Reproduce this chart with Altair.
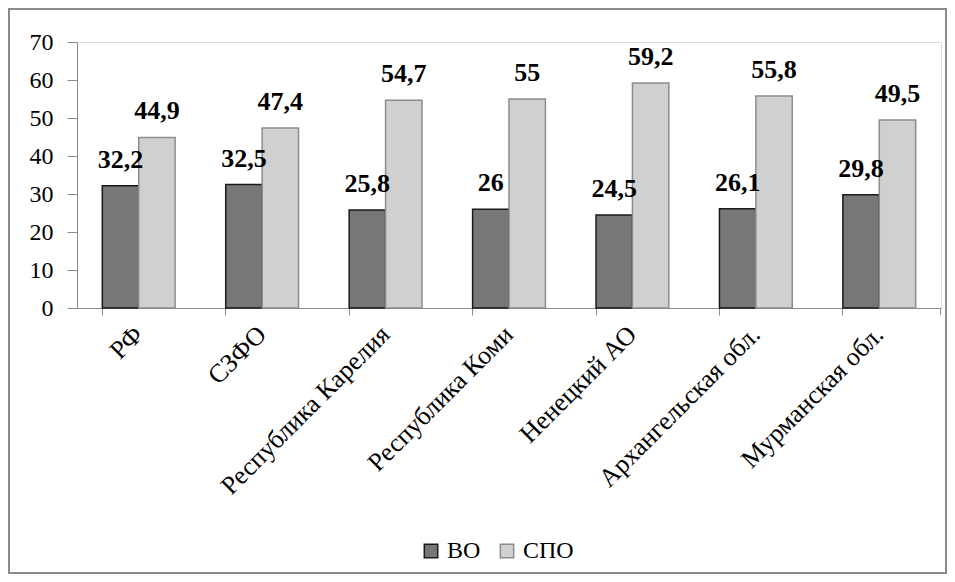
import altair as alt
import pandas as pd

regions = ["РФ", "СЗФО", "Республика Карелия", "Республика Коми",
           "Ненецкий АО", "Архангельская обл.", "Мурманская обл."]
series = ["ВО", "СПО"]
vo = [32.2, 32.5, 25.8, 26, 24.5, 26.1, 29.8]
spo = [44.9, 47.4, 54.7, 55, 59.2, 55.8, 49.5]
y_ticks = [0, 10, 20, 30, 40, 50, 60, 70]

rows = []
for r, a, b in zip(regions, vo, spo):
    rows.append({"region": r, "series": "ВО", "value": a})
    rows.append({"region": r, "series": "СПО", "value": b})
df = pd.DataFrame(rows)

FONT = "Liberation Serif"
W, H = 864, 266

x_enc = alt.X("region:N", sort=regions,
              scale=alt.Scale(paddingInner=0.41, paddingOuter=0.205),
              axis=alt.Axis(title=None, labelAngle=-45, labelAlign="right",
                            labelBaseline="middle", labelFont=FONT,
                            labelFontSize=26, labelColor="#000",
                            labelPadding=15, bandPosition=0,
                            domainColor="#8a8a8a", tickColor="#8a8a8a",
                            tickSize=7, labelLimit=400, labelOverlap=False))
xo_enc = alt.XOffset("series:N", sort=series,
                     scale=alt.Scale(paddingInner=0, paddingOuter=0))
y_enc = alt.Y("value:Q",
              scale=alt.Scale(domain=[0, 70], nice=False),
              axis=alt.Axis(title=None, values=y_ticks, grid=False,
                            labelFont=FONT, labelFontSize=24,
                            labelColor="#000", domainColor="#8a8a8a",
                            tickColor="#8a8a8a", tickSize=10, labelPadding=14,
                            labelOverlap=False, labelFlush=False))

fill_scale = alt.Scale(domain=series, range=["#777777", "#d0d0d0"])
stroke_scale = alt.Scale(domain=series, range=["#1a1a1a", "#8c8c8c"])

legend = alt.Legend(title=None, orient="none", legendX=342, legendY=497,
                    direction="horizontal", labelFont=FONT, labelFontSize=24,
                    labelColor="#000", symbolType="square", symbolSize=180,
                    symbolStrokeWidth=1.5, columnPadding=14, labelOffset=4)

bars = alt.Chart(df).mark_bar(strokeWidth=1.5).encode(
    x=x_enc, xOffset=xo_enc, y=y_enc,
    fill=alt.Fill("series:N", scale=fill_scale, legend=legend),
    stroke=alt.Stroke("series:N", scale=stroke_scale, legend=legend),
)

labels = alt.Chart(df).transform_calculate(
    lbl="replace(toString(datum.value), '.', ',')"
).mark_text(font=FONT, fontSize=26, fontWeight="bold", color="#000",
            baseline="alphabetic", dy=-18).encode(
    x=x_enc, xOffset=xo_enc, y=y_enc, text="lbl:N",
)

border = alt.Chart(pd.DataFrame({"k": [0]})).mark_rect(
    fill=None, stroke="#8a8a8a", strokeWidth=2
).encode(x=alt.value(-68), x2=alt.value(W + 5), y=alt.value(-33), y2=alt.value(531))

end_tick = alt.Chart(pd.DataFrame({"k": [0]})).mark_rule(
    color="#8a8a8a", strokeWidth=1
).encode(x=alt.value(W - 0.5), y=alt.value(H), y2=alt.value(H + 7))

chart = alt.layer(bars, labels, end_tick, border).properties(
    width=W, height=H,
    autosize=alt.AutoSizeParams(type="none"),
    padding={"left": 69, "top": 34, "right": 6, "bottom": 266},
).configure_view(stroke=None).configure(font=FONT, background="white")

chart.save("out.html", embed_options={"renderer": "svg", "actions": False})
